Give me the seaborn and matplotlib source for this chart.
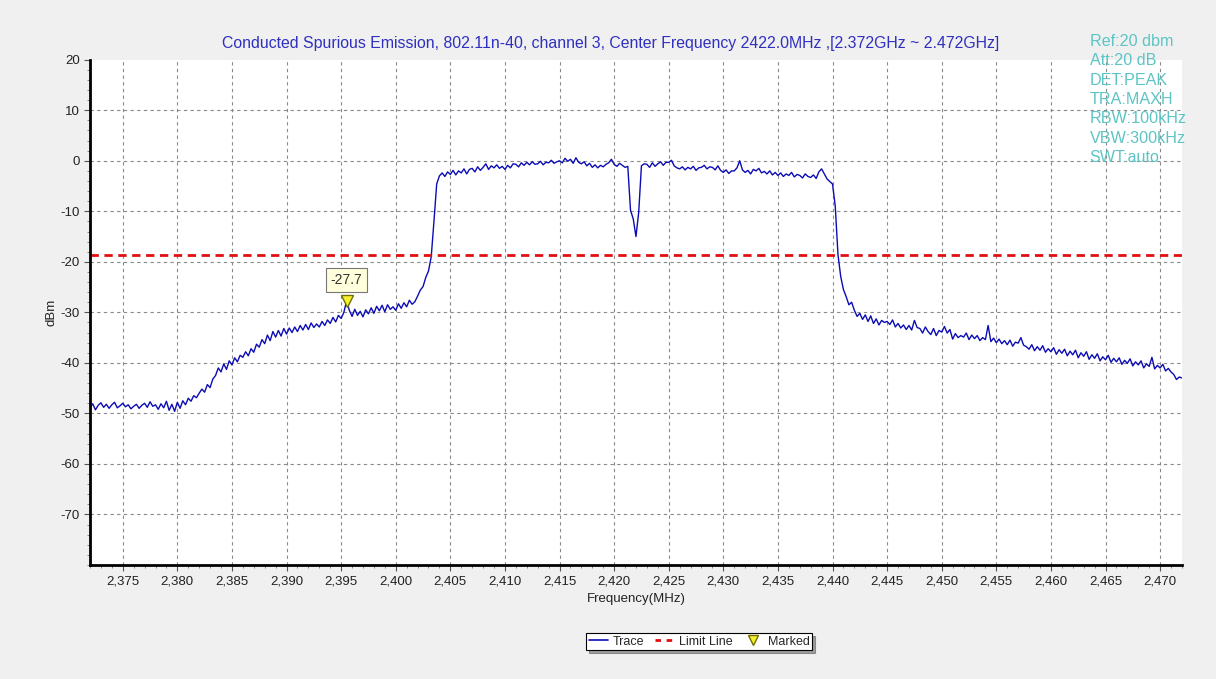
import numpy as np
import pandas as pd
import matplotlib
matplotlib.use("Agg")
import matplotlib.pyplot as plt
from matplotlib.lines import Line2D
from matplotlib.ticker import FuncFormatter, MultipleLocator
import seaborn as sns

# sweep: 2372 .. 2472 MHz, one reading every 0.25 MHz
freq_start, freq_stop, freq_step = 2372.0, 2472.0, 0.25

level_2372_2381 = [
    -48.9, -48.1, -49.3, -48.4, -47.9, -48.8, -48.2, -49.0,
    -48.3, -47.8, -48.9, -48.5, -48.0, -48.7, -48.3, -49.1,
    -48.6, -48.2, -49.0, -48.4, -48.0, -48.8, -47.7, -48.6,
    -48.3, -49.2, -48.1, -48.9, -47.6, -49.4, -48.2, -49.6,
    -47.8, -49.0, -47.5, -48.3, -47.0, -47.6, -46.5, -46.9,
]
level_2382_2391 = [
    -46.0, -45.2, -45.8, -44.3, -44.9, -43.2, -42.5, -41.0,
    -41.8, -40.2, -41.3, -39.6, -40.4, -39.0, -39.8, -38.5,
    -38.9, -37.8, -38.6, -37.2, -37.9, -36.3, -36.9, -35.4,
    -36.2, -34.5, -35.6, -33.8, -34.9, -33.6, -34.7, -33.2,
    -34.3, -33.1, -34.0, -32.9, -33.8, -32.6, -33.5, -32.4,
]
level_2392_2401 = [
    -33.4, -32.1, -33.0, -32.3, -32.9, -31.8, -32.6, -31.5,
    -32.2, -31.0, -31.9, -30.6, -31.2, -30.0, -27.7, -29.6,
    -30.8, -29.4, -30.6, -29.8, -30.9, -29.5, -30.3, -29.1,
    -30.2, -28.8, -29.7, -28.6, -29.9, -28.5, -29.4, -28.9,
    -29.6, -28.3, -29.2, -28.1, -28.9, -27.6, -28.4, -27.9,
]
level_2402_2411 = [
    -26.8, -25.6, -24.9, -23.1, -21.8, -19.0, -12.0, -4.6,
    -3.0, -2.4, -3.1, -2.2, -2.7, -1.9, -2.8, -2.0,
    -2.4, -1.6, -2.6, -1.7, -1.5, -2.2, -1.2, -1.9,
    -1.3, -0.6, -1.7, -1.0, -1.4, -0.8, -1.5, -1.1,
    -1.7, -0.9, -1.4, -0.6, -0.7, -1.2, -0.4, -0.9,
]
level_2412_2421 = [
    -0.3, -0.8, -0.2, -0.7, -0.6, -0.1, -0.8, -0.3,
    -0.4, 0.1, -0.5, -0.2, 0.0, -0.4, 0.5, -0.1,
    0.3, -0.5, 0.6, -0.3, -0.6, -0.2, -1.0, -0.5,
    -1.3, -0.8, -1.4, -0.9, -1.2, -0.7, -0.4, 0.3,
    -0.7, -1.1, -0.5, -0.9, -1.3, -1.1, -9.8, -11.5,
]
level_2422_2431 = [
    -15.0, -10.2, -1.0, -0.6, -0.7, -1.3, -0.4, -1.1,
    -0.6, -0.2, -0.9, -0.3, -0.3, 0.1, -1.0, -1.4,
    -1.6, -1.2, -1.8, -1.3, -1.6, -1.1, -1.9, -1.4,
    -1.3, -0.9, -1.6, -1.2, -1.3, -1.8, -1.0, -1.9,
    -2.3, -1.8, -2.5, -2.0, -2.0, -1.4, 0.0, -1.8,
]
level_2432_2441 = [
    -2.3, -1.9, -2.6, -1.7, -2.0, -1.5, -2.4, -2.1,
    -2.6, -2.0, -2.8, -2.3, -2.9, -2.4, -3.1, -2.6,
    -2.9, -2.3, -3.2, -2.7, -2.9, -3.4, -2.6, -3.1,
    -3.3, -2.8, -3.5, -2.2, -1.6, -2.6, -3.6, -4.1,
    -4.6, -9.0, -18.6, -22.9, -25.5, -26.9, -28.5, -28.0,
]
level_2442_2451 = [
    -29.6, -30.8, -30.2, -31.4, -30.5, -31.8, -30.7, -32.2,
    -31.3, -32.5, -31.6, -32.0, -31.8, -32.4, -31.5, -32.9,
    -32.2, -33.1, -32.5, -33.4, -32.6, -33.5, -31.6, -33.0,
    -33.2, -34.1, -32.9, -33.8, -34.4, -33.2, -34.6, -33.6,
    -33.9, -32.8, -34.1, -33.4, -35.3, -34.2, -35.0, -34.6,
]
level_2452_2461 = [
    -34.9, -34.1, -35.4, -34.5, -35.2, -34.6, -35.6, -35.0,
    -35.4, -32.6, -35.8, -35.1, -36.0, -35.3, -36.2, -35.6,
    -36.4, -35.5, -36.7, -35.9, -36.1, -35.0, -36.5, -36.8,
    -37.3, -36.4, -37.6, -36.8, -37.5, -36.6, -37.9, -37.2,
    -37.8, -37.0, -38.3, -37.4, -38.1, -37.3, -38.6, -37.7,
]
level_2462_2472 = [
    -38.4, -37.5, -39.0, -38.0, -38.7, -37.8, -39.3, -38.4,
    -39.1, -38.2, -39.6, -38.8, -39.4, -38.5, -39.9, -39.1,
    -39.8, -39.0, -40.3, -39.5, -40.1, -39.2, -40.6, -39.8,
    -40.4, -39.6, -41.0, -40.2, -40.7, -38.9, -41.2, -40.5,
    -41.0, -40.3, -41.6, -41.1, -41.8, -42.3, -43.3, -42.8,
    -43.0,
]

limit_level = -18.6
marker_freq = 2395.5
marker_level = -27.7

title = ("Conducted Spurious Emission, 802.11n-40, channel 3, "
         "Center Frequency 2422.0MHz ,[2.372GHz ~ 2.472GHz]")
settings = ["Ref:20 dbm", "Att:20 dB", "DET:PEAK", "TRA:MAXH",
            "RBW:100kHz", "VBW:300kHz", "SWT:auto"]

level = (level_2372_2381 + level_2382_2391 + level_2392_2401 + level_2402_2411
         + level_2412_2421 + level_2422_2431 + level_2432_2441 + level_2442_2451
         + level_2452_2461 + level_2462_2472)
freq = freq_start + freq_step * np.arange(len(level))
df = pd.DataFrame({"Frequency": freq, "Level": level})

sns.set_theme(style="white")
plt.rcParams["font.family"] = ["Liberation Sans", "DejaVu Sans"]

fig = plt.figure(figsize=(12.16, 6.79), dpi=100, facecolor="#f0f0f0")
ax = fig.add_axes([0.074, 0.168, 0.898, 0.744])
ax.set_facecolor("white")

sns.lineplot(data=df, x="Frequency", y="Level", ax=ax, color="#0c0cb4",
             linewidth=1.0, sort=False, estimator=None)
ax.axhline(limit_level, color="#e01010", linestyle=(0, (3, 2)), linewidth=2)
ax.plot([marker_freq], [marker_level], marker="v", markersize=9,
        markerfacecolor="#f6f030", markeredgecolor="#707000", linestyle="none")
ax.annotate(f"{marker_level:.1f}", xy=(marker_freq, marker_level),
            xytext=(0, 15), textcoords="offset points", ha="center", va="center",
            fontsize=10, color="#333333",
            bbox=dict(boxstyle="square,pad=0.35", facecolor="#ffffdc",
                      edgecolor="#777777", linewidth=0.8))

ax.set_xlim(freq_start, freq_stop)
ax.set_ylim(-80, 20)
ax.xaxis.set_major_locator(MultipleLocator(5))
ax.xaxis.set_minor_locator(MultipleLocator(1))
ax.yaxis.set_major_locator(MultipleLocator(10))
ax.yaxis.set_minor_locator(MultipleLocator(2))
ax.xaxis.set_major_formatter(FuncFormatter(lambda v, p: f"{v:,.0f}"))
ax.yaxis.set_major_formatter(FuncFormatter(lambda v, p: f"{v:.0f}"))
ax.set_yticks(np.arange(-70, 21, 10))

ax.grid(True, which="major", color="#8a8a8a", linestyle=(0, (3, 3)), linewidth=0.8)
for gl, t in zip(ax.yaxis.get_gridlines(), ax.get_yticks()):
    if t >= 20:
        gl.set_visible(False)

for side in ["top", "right"]:
    ax.spines[side].set_visible(False)
for side in ["left", "bottom"]:
    ax.spines[side].set_color("black")
    ax.spines[side].set_linewidth(2)

ax.tick_params(axis="both", which="major", direction="out", length=4, width=0.8,
               color="#555555", labelsize=9.5, labelcolor="#222222", bottom=True, left=True)
ax.tick_params(axis="both", which="minor", direction="out", length=2.5, width=0.6,
               color="#777777", bottom=True, left=True)

ax.set_xlabel("Frequency(MHz)", fontsize=9.5, color="#222222", labelpad=4)
ax.set_ylabel("dBm", fontsize=9.5, color="#222222", labelpad=2)

fig.text(0.502, 0.936, title, ha="center", va="center", fontsize=11.4, color="#3030c0")
for i, s in enumerate(settings):
    fig.text(0.896, 0.939 - i * 0.0285, s, ha="left", va="center", fontsize=11.6,
             color="#5cc4c4")

handles = [
    Line2D([], [], color="#0c0cb4", linewidth=1.2),
    Line2D([], [], color="#e01010", linestyle=(0, (2, 2)), linewidth=2),
    Line2D([], [], marker="v", markersize=7, markerfacecolor="#f6f030",
           markeredgecolor="#707000", linestyle="none"),
]
leg = fig.legend(handles, ["Trace", "Limit Line", "Marked"], loc="center",
                 bbox_to_anchor=(0.575, 0.055), ncol=3, fontsize=9, frameon=True,
                 fancybox=False, shadow=True, edgecolor="black", handlelength=1.5,
                 columnspacing=0.9, handletextpad=0.4, borderpad=0.2)
leg.get_frame().set_linewidth(0.8)

fig.savefig("out.png", dpi=100, facecolor=fig.get_facecolor())
